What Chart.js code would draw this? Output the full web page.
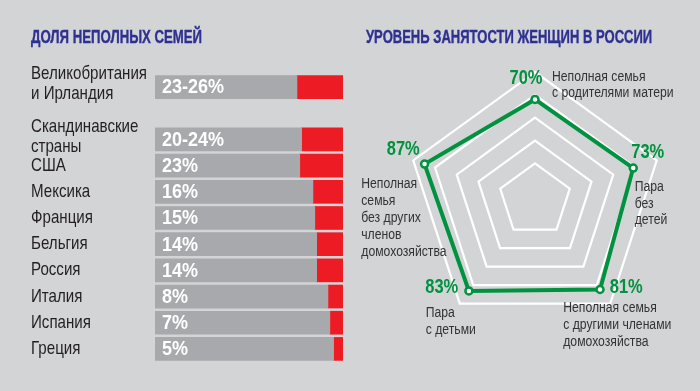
<!DOCTYPE html>
<html><head><meta charset="utf-8">
<script src="https://cdn.jsdelivr.net/npm/chart.js@4.4.1/dist/chart.umd.min.js"></script>
<style>
html,body{margin:0;padding:0;background:#d3d4d6;width:700px;height:391px;overflow:hidden;}
#wrap{position:relative;width:700px;height:391px;}
canvas{position:absolute;left:0;top:0;}
.title{position:absolute;font-family:'Liberation Sans Narrow','Liberation Sans',sans-serif;font-weight:bold;font-size:18.5px;line-height:18px;color:#2e3192;white-space:nowrap;transform-origin:0 0;-webkit-text-stroke:0.4px #2e3192;}
</style></head><body>
<div id="wrap">
<canvas id="bars" width="700" height="391"></canvas>
<canvas id="radar" width="700" height="391"></canvas>
<div class="title" id="t1" style="left:31px;top:28px;">ДОЛЯ НЕПОЛНЫХ СЕМЕЙ</div>
<div class="title" id="t2" style="left:366px;top:28px;">УРОВЕНЬ ЗАНЯТОСТИ ЖЕНЩИН В РОССИИ</div>
</div>
<script>
// ---- data: share of single-parent families ----
const countries = [['Великобритания','и Ирландия'], ['Скандинавские','страны'], 'США', 'Мексика', 'Франция', 'Бельгия', 'Россия', 'Италия', 'Испания', 'Греция'];
const shareValues = [24.5, 22, 23, 16, 15, 14, 14, 8, 7, 5];
const shareLabels = ['23-26%', '20-24%', '23%', '16%', '15%', '14%', '14%', '8%', '7%', '5%'];

// ---- data: female employment in Russia ----
const familyTypes = [['Неполная семья','с родителями матери'], ['Пара','без','детей'], ['Неполная семья','с другими членами','домохозяйства'], ['Пара','с детьми'], ['Неполная','семья','без других','членов','домохозяйства']];
const employment = [70, 73, 81, 83, 87];
const employmentLabels = ['70%', '73%', '81%', '83%', '87%'];

const FONT = "'Liberation Sans Narrow','Liberation Sans',sans-serif";
const GREEN = '#00923f';

// fit titles to reference widths (condensed look)
function fitTitle(id, w){ const el=document.getElementById(id); const cw=el.offsetWidth; el.style.transform='scaleX('+(w/cw)+')'; }
fitTitle('t1', 171); fitTitle('t2', 286);

// horizontal condensing factor so that a sample string has the reference width
function squeeze(ctx, font, sample, width){ ctx.save(); ctx.font = font; const w = ctx.measureText(sample).width; ctx.restore(); return Math.min(1, width / w); }
function drawText(ctx, text, x, y, align, sx){
  ctx.save(); ctx.translate(x, y); ctx.scale(sx, 1); ctx.textAlign = align; ctx.fillText(text, 0, 0); ctx.restore();
}

// spacer row after the first (two-line) label
const rows = countries.slice(); rows.splice(1,0,'');
const vals = shareValues.slice(); vals.splice(1,0,null);
const lbls = shareLabels.slice(); lbls.splice(1,0,'');
const rest = vals.map(v => v==null ? null : 100 - v);

const barText = {id:'barText', afterDatasetsDraw(chart){
  const ctx = chart.ctx; const meta = chart.getDatasetMeta(0); const ys = chart.scales.y;
  // bar value labels
  const fB = 'bold 19.5px ' + FONT; const sB = squeeze(ctx, fB, '23-26%', 62);
  ctx.save(); ctx.font = fB; ctx.fillStyle = '#ffffff'; ctx.textBaseline = 'middle';
  meta.data.forEach((el,i) => { if (vals[i] != null) drawText(ctx, lbls[i], chart.chartArea.left + 7, el.y + 1, 'left', sB); });
  ctx.restore();
  // category labels
  const fC = '18.5px ' + FONT; const sC = squeeze(ctx, fC, 'Великобритания', 116);
  ctx.save(); ctx.font = fC; ctx.fillStyle = '#231f20'; ctx.textBaseline = 'middle';
  rows.forEach((r,i) => {
    const lines = Array.isArray(r) ? r : [r];
    const lh = 20; const shift = lines.length > 1 ? -3 : 0;
    const y0 = ys.getPixelForTick(i) + shift - (lines.length - 1) * lh / 2;
    lines.forEach((ln,k) => drawText(ctx, ln, ys.left, y0 + k*lh, 'left', sC));
  });
  ctx.restore();
}};

new Chart(document.getElementById('bars'), {
  type:'bar',
  data:{labels: rows, datasets:[
    {data: rest, backgroundColor:'#a7a9ac', barThickness:23},
    {data: vals, backgroundColor:'#ed1c24', barThickness:23}
  ]},
  options:{
    indexAxis:'y', responsive:false, animation:false, devicePixelRatio:1,
    layout:{padding:{left:31, right:357, top:74, bottom:29}},
    plugins:{legend:{display:false}, tooltip:{enabled:false}},
    scales:{
      x:{stacked:true, min:0, max:100, display:false},
      y:{stacked:true, grid:{display:false}, border:{display:false}, ticks:{display:false},
         afterFit: s => { s.width = 124; }}
    }
  },
  plugins:[barText]
});

// text offsets relative to the outer grid vertex of each axis
const radarLayout = [
  {vx:-9,  vy:6,   cx:17,  cy:5,   lh:16.5},
  {vx:-9,  vy:-8,  cx:-22, cy:27,  lh:16.3},
  {vx:16,  vy:-16, cx:-47, cy:5,   lh:17},
  {vx:-18, vy:-16, cx:-34, cy:10,  lh:16.7},
  {vx:-10, vy:-11, cx:-52, cy:24,  lh:17}
];
const radarText = {id:'radarText', afterDatasetsDraw(chart){
  const ctx = chart.ctx; const sc = chart.scales.r;
  const fP = 'bold 20.5px ' + FONT; const sP = squeeze(ctx, fP, '70%', 33);
  const fL = '14px ' + FONT; const sL = squeeze(ctx, fL, 'с родителями матери', 121.5);
  ctx.save(); ctx.textBaseline = 'middle';
  employment.forEach((v,i) => {
    const p = sc.getPointPosition(i, sc.drawingArea); const L = radarLayout[i];
    ctx.font = fP; ctx.fillStyle = GREEN;
    drawText(ctx, employmentLabels[i], p.x + L.vx, p.y + L.vy, 'center', sP);
    ctx.font = fL; ctx.fillStyle = '#333333';
    familyTypes[i].forEach((line,k) => drawText(ctx, line, p.x + L.cx, p.y + L.cy + k*L.lh, 'left', sL));
  });
  ctx.restore();
}};

new Chart(document.getElementById('radar'), {
  type:'radar',
  data:{labels: familyTypes, datasets:[{data: employment, borderColor:GREEN, borderWidth:4, backgroundColor:'rgba(0,0,0,0)', fill:false,
    pointRadius:3.5, pointBorderWidth:2.5, pointBackgroundColor:'#ffffff', pointBorderColor:GREEN}]},
  options:{responsive:false, animation:false, devicePixelRatio:1,
    layout:{padding:{left:407, right:37, top:72, bottom:63}},
    plugins:{legend:{display:false}, tooltip:{enabled:false}},
    scales:{r:{min:-40, max:100, ticks:{stepSize:25, display:false}, pointLabels:{display:false}, angleLines:{display:false},
      grid:{color: c => (c.tick && c.tick.value >= 0) ? '#ffffff' : 'rgba(0,0,0,0)', lineWidth:2.2}}}
  },
  plugins:[radarText]
});
</script>
</body></html>
